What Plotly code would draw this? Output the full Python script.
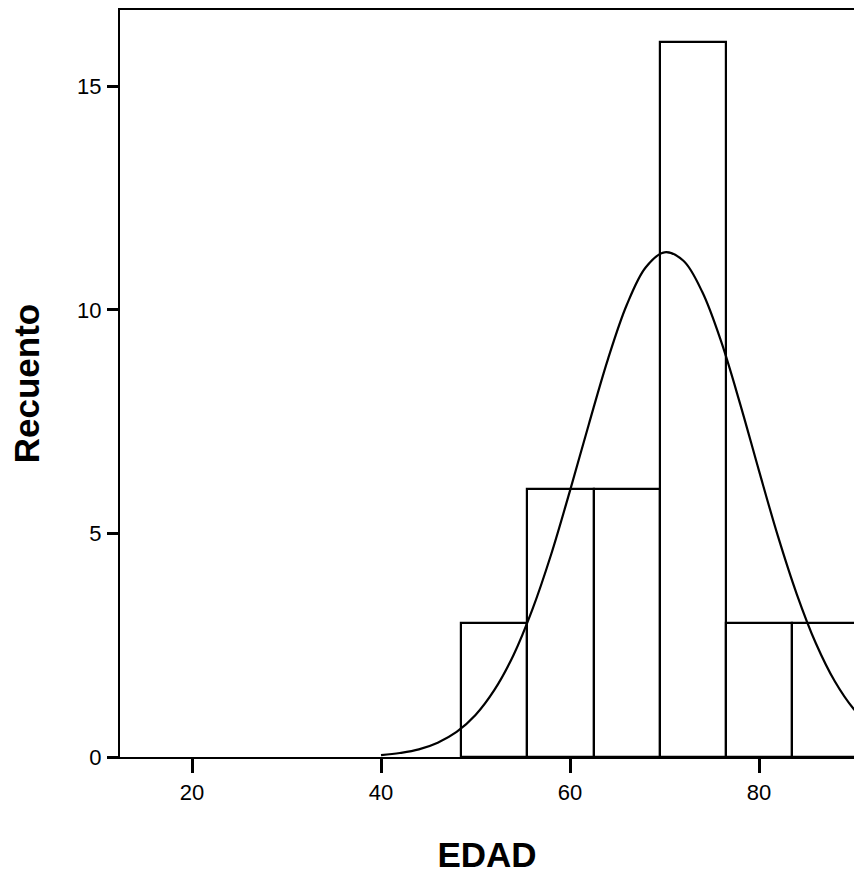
import plotly.graph_objects as go

# Histogram data (EDAD)
bin_left = [48.5, 55.5, 62.5, 69.5, 76.5, 83.5]
bin_width = 7.0
counts = [3, 6, 6, 16, 3, 3]

# Normal curve
curve_x = [40, 42, 44, 46, 48, 50, 52, 54, 56, 58, 60, 62, 64, 66, 68, 70,
           72, 74, 76, 78, 80, 82, 84, 86, 88, 90, 92]
curve_y = [0.04, 0.09, 0.17, 0.32, 0.56, 0.94, 1.50, 2.27, 3.29, 4.53, 5.96,
           7.45, 8.89, 10.11, 10.95, 11.29, 11.10, 10.40, 9.29, 7.90, 6.40,
           4.94, 3.64, 2.55, 1.70, 1.08, 0.66]

x_ticks = [20, 40, 60, 80]
y_ticks = [0, 5, 10, 15]

centers = [b + bin_width / 2 for b in bin_left]

fig = go.Figure()
fig.add_trace(go.Bar(
    x=centers, y=counts, width=[bin_width] * len(counts),
    marker=dict(color="white", line=dict(color="black", width=2.2)),
    showlegend=False, hoverinfo="x+y",
))
fig.add_trace(go.Scatter(
    x=curve_x, y=curve_y, mode="lines",
    line=dict(color="black", width=2.2, shape="spline"),
    showlegend=False, cliponaxis=True,
))

tick_font = dict(family="Liberation Sans, Arial, sans-serif", size=22, color="black")
title_font = dict(family="Liberation Sans, Arial, sans-serif", size=35, color="black")

fig.update_layout(
    width=854, height=879,
    margin=dict(l=120, r=0, t=10, b=122),
    paper_bgcolor="white", plot_bgcolor="white",
    bargap=0,
    xaxis=dict(
        range=[12.38, 90.05], tickvals=x_ticks, ticktext=[str(v) for v in x_ticks],
        ticks="outside", ticklen=14, tickwidth=3, tickcolor="black",
        showline=True, linecolor="black", linewidth=2, mirror=True,
        showgrid=False, zeroline=False, tickfont=tick_font,
        ticklabelstandoff=1,
        title=dict(text="<b>EDAD</b>", font=title_font, standoff=38),
    ),
    yaxis=dict(
        range=[0, 16.71], tickvals=y_ticks, ticktext=[str(v) for v in y_ticks],
        ticks="outside", ticklen=11, tickwidth=3, tickcolor="black",
        showline=True, linecolor="black", linewidth=2, mirror=False,
        showgrid=False, zeroline=False, tickfont=tick_font,
        ticklabelstandoff=1,
        title=dict(text="<b>Recuento</b>", font=title_font, standoff=27),
    ),
)

fig.write_html(
    "out.html",
    config={"displayModeBar": False},
    post_script="document.body.style.margin='0';document.body.style.overflow='hidden';",
)
